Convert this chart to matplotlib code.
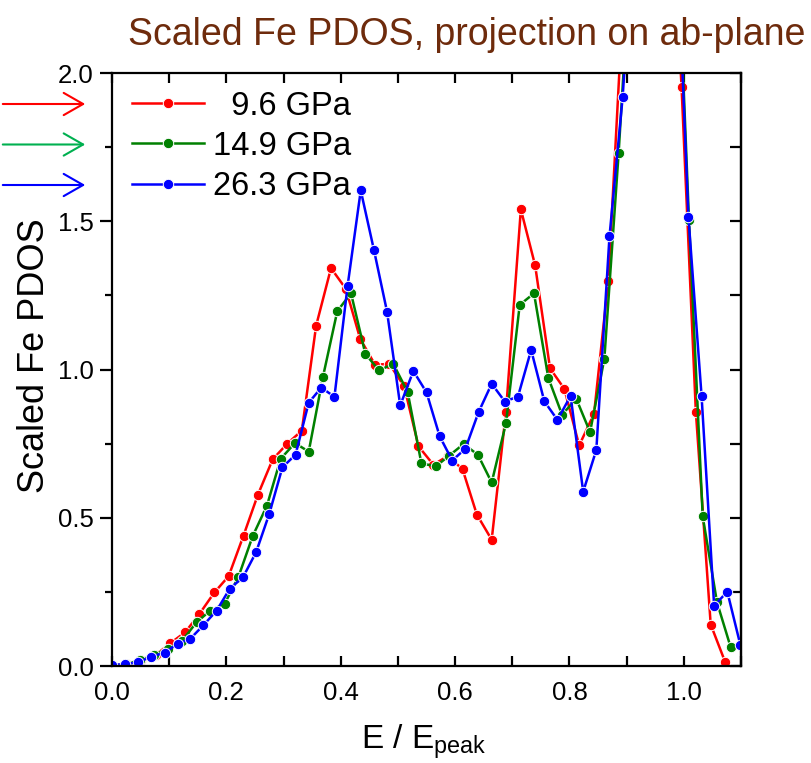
import matplotlib
matplotlib.use("Agg")
import matplotlib.pyplot as plt
from matplotlib.ticker import MultipleLocator

plt.rcParams['font.family'] = ['Liberation Sans', 'DejaVu Sans']

# E / E_peak and scaled PDOS for each pressure (values above 2.0 run off the top)
x_96 = [0.000, 0.026, 0.051, 0.077, 0.102, 0.128, 0.153, 0.179, 0.204, 0.230,
        0.255, 0.281, 0.306, 0.332, 0.357, 0.383, 0.409, 0.434, 0.460, 0.485,
        0.511, 0.536, 0.562, 0.587, 0.613, 0.638, 0.664, 0.689, 0.715, 0.740,
        0.766, 0.791, 0.817, 0.843, 0.868, 0.894, 0.919, 0.945, 0.970, 0.996,
        1.021, 1.047, 1.072]
y_96 = [0.000, 0.007, 0.021, 0.038, 0.077, 0.114, 0.176, 0.248, 0.303, 0.440,
        0.577, 0.697, 0.749, 0.794, 1.148, 1.342, 1.272, 1.104, 1.016, 1.019,
        0.943, 0.741, 0.679, 0.708, 0.664, 0.511, 0.426, 0.858, 1.540, 1.351,
        1.004, 0.935, 0.744, 0.851, 1.300, 2.250, 3.200, 3.500, 2.900, 1.954,
        0.858, 0.140, 0.015]

x_149 = [0.000, 0.025, 0.049, 0.074, 0.098, 0.123, 0.148, 0.172, 0.197, 0.221,
         0.246, 0.271, 0.295, 0.320, 0.344, 0.369, 0.394, 0.418, 0.443, 0.467,
         0.492, 0.517, 0.541, 0.566, 0.590, 0.615, 0.640, 0.664, 0.689, 0.713,
         0.738, 0.763, 0.787, 0.812, 0.836, 0.861, 0.886, 0.910, 0.935, 0.959,
         0.984, 1.009, 1.033, 1.058, 1.082]
y_149 = [0.000, 0.007, 0.019, 0.038, 0.058, 0.086, 0.148, 0.187, 0.210, 0.300,
         0.438, 0.541, 0.699, 0.752, 0.723, 0.976, 1.197, 1.257, 1.053, 0.997,
         1.019, 0.924, 0.684, 0.673, 0.710, 0.749, 0.712, 0.619, 0.819, 1.218,
         1.257, 0.972, 0.848, 0.901, 0.789, 1.036, 1.730, 2.500, 3.300, 3.400,
         2.700, 1.505, 0.505, 0.215, 0.063]

x_263 = [0.000, 0.023, 0.046, 0.069, 0.092, 0.115, 0.137, 0.160, 0.183, 0.206,
         0.229, 0.252, 0.275, 0.298, 0.321, 0.344, 0.366, 0.389, 0.412, 0.435,
         0.458, 0.481, 0.504, 0.527, 0.550, 0.573, 0.595, 0.618, 0.641, 0.664,
         0.687, 0.710, 0.733, 0.756, 0.779, 0.802, 0.824, 0.847, 0.870, 0.893,
         0.916, 0.939, 0.962, 0.985, 1.008, 1.031, 1.053, 1.076, 1.099]
y_263 = [0.004, 0.006, 0.013, 0.032, 0.045, 0.075, 0.092, 0.138, 0.187, 0.261,
         0.299, 0.384, 0.513, 0.670, 0.713, 0.888, 0.939, 0.908, 1.282, 1.604,
         1.404, 1.195, 0.879, 0.995, 0.923, 0.775, 0.693, 0.733, 0.856, 0.952,
         0.892, 0.909, 1.066, 0.893, 0.830, 0.911, 0.588, 0.729, 1.449, 1.918,
         2.600, 3.300, 3.500, 2.600, 1.516, 0.912, 0.203, 0.251, 0.070]

labels = ['  9.6 GPa', '14.9 GPa', '26.3 GPa']
colors = ['#ff0000', '#008000', '#0000ff']
arrow_colors = ['#ff0000', '#00b050', '#0000ff']

fig = plt.figure(figsize=(8.11, 7.63), dpi=100)
ax = fig.add_axes([0.1381, 0.1271, 0.7756, 0.7772])

for xs, ys, c, lab in zip([x_96, x_149, x_263], [y_96, y_149, y_263], colors, labels):
    ax.plot(xs, ys, color=c, lw=1.8, marker='o', ms=7.5, mfc=c,
            mec='white', mew=0.7, label=lab)

ax.set_xlim(0, 1.1)
ax.set_ylim(0, 2.0)

ax.xaxis.set_major_locator(MultipleLocator(0.2))
ax.xaxis.set_minor_locator(MultipleLocator(0.1))
ax.yaxis.set_major_locator(MultipleLocator(0.5))
ax.yaxis.set_minor_locator(MultipleLocator(0.25))
ax.xaxis.set_major_formatter(plt.FormatStrFormatter('%.1f'))
ax.yaxis.set_major_formatter(plt.FormatStrFormatter('%.1f'))

for sp in ax.spines.values():
    sp.set_linewidth(1.6)

ax.tick_params(axis='x', which='both', direction='in', top=True,
               length=7, width=1.6, labelsize=18.5, pad=11)
ax.tick_params(axis='y', which='major', direction='out', right=False,
               length=9, width=1.6, labelsize=18.5, pad=4)
ax.tick_params(axis='y', which='minor', direction='out', right=False,
               length=5, width=1.6)

# right-hand ticks point inwards
ax_r = ax.secondary_yaxis('right')
ax_r.yaxis.set_major_locator(MultipleLocator(0.25))
ax_r.tick_params(direction='in', length=8, width=1.6, labelright=False)
ax_r.spines['right'].set_linewidth(1.6)

leg = ax.legend(loc='upper left', bbox_to_anchor=(0.008, 0.995), frameon=False,
                fontsize=23.5, handlelength=2.2, handletextpad=0.3,
                labelspacing=0.28, borderpad=0.45, borderaxespad=0.0)

# colored arrows pointing at the legend entries
for i, c in enumerate(arrow_colors):
    yy = 1 - (104 + 40.5 * i) / 763
    fig.patches.append(matplotlib.patches.FancyArrowPatch(
        (0.0, yy), (88 / 811, yy), transform=fig.transFigure,
        arrowstyle='->,head_length=0.7,head_width=0.4', mutation_scale=20,
        color=c, lw=1.5))

fig.text(35 / 811, 0.5334, 'Scaled Fe PDOS', rotation=90, ha='center',
         va='center', fontsize=26)
fig.text(424 / 811, 1 - 748 / 763, r'E / E$_\mathregular{peak}$', ha='center',
         va='baseline', fontsize=24)
fig.text(805 / 811, 1 - 45 / 763, 'Scaled Fe PDOS, projection on ab-plane',
         ha='right', va='baseline', fontsize=27, color='#6e2b0c')

fig.savefig('out.png', dpi=100)
